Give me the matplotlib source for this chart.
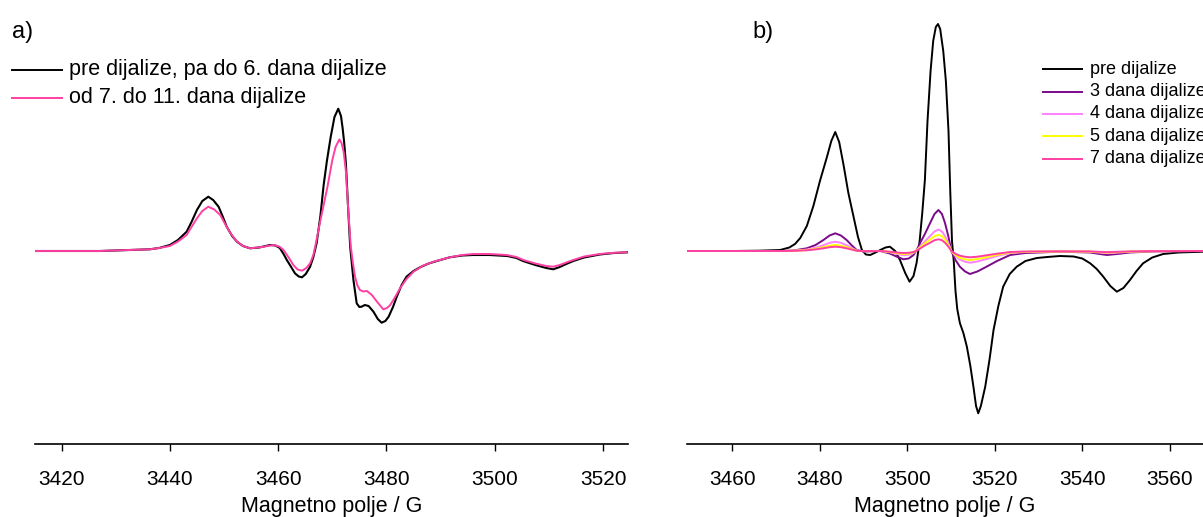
import matplotlib
matplotlib.use("Agg")
import matplotlib.pyplot as plt
from matplotlib.lines import Line2D

plt.rcParams['font.family'] = ['Liberation Sans', 'DejaVu Sans']

# ---------------- data: panel a ----------------
a_field_black = [3415.1, 3427.1, 3432.6, 3436.3, 3438.0, 3440.0, 3441.5, 3443.1, 3444.0, 3445.0,
                 3446.0, 3447.1, 3448.0, 3449.0, 3449.8, 3450.5, 3451.5, 3452.4, 3453.5, 3454.8,
                 3456.5, 3458.5, 3459.5, 3460.3, 3461.0, 3461.6, 3462.4, 3463.1, 3463.8, 3464.4,
                 3465.1, 3465.9, 3466.5, 3467.1, 3467.8, 3468.4, 3469.0, 3469.7, 3470.4, 3471.1,
                 3471.6, 3471.9, 3472.2, 3472.5, 3472.9, 3473.3, 3473.9, 3474.5, 3475.0, 3475.4,
                 3476.0, 3476.7, 3477.6, 3478.4, 3479.1, 3479.8, 3480.4, 3481.2, 3481.9, 3482.8,
                 3483.7, 3485.0, 3486.2, 3487.8, 3489.3, 3491.7, 3494.0, 3496.0, 3499.0, 3502.3,
                 3504.0, 3505.2, 3507.5, 3509.5, 3510.8, 3512.0, 3513.2, 3514.5, 3516.5, 3519.4,
                 3522.0, 3524.6]
a_int_black = [0, 0, 1, 1.7, 3, 6, 11, 19.3, 29, 41,
               50, 54.3, 51, 44.3, 34, 24.3, 15, 9.3, 5, 2.7,
               3.5, 6, 5.5, 3, -3, -9, -16, -22.3, -25.5, -26.3,
               -23, -15.7, -6, 7.7, 35, 66, 90, 114, 134, 142.3,
               135, 123, 108, 88, 45, 4.3, -29, -52.3, -56, -55.7,
               -54, -55, -60.7, -68, -71.7, -70, -65.7, -56, -45.7, -34,
               -25.7, -20, -16.3, -12.5, -10, -6.3, -4.5, -4, -4, -5,
               -7, -10, -14, -17, -18.3, -16, -13, -10, -6.5, -3.5,
               -2, -1.3]

a_field_pink = [3415.1, 3427.1, 3436.3, 3438.0, 3440.0, 3441.5, 3443.1, 3444.0, 3445.0, 3446.0,
                3447.1, 3448.2, 3449.3, 3450.2, 3451.2, 3452.3, 3453.5, 3454.8, 3457.0, 3459.1,
                3460.2, 3461.0, 3462.0, 3462.8, 3463.6, 3464.4, 3465.2, 3465.9, 3466.5, 3466.9,
                3467.7, 3468.4, 3469.1, 3469.6, 3470.0, 3470.6, 3471.3, 3471.7, 3472.1, 3472.5,
                3472.9, 3473.4, 3473.8, 3474.2, 3474.6, 3475.1, 3475.7, 3476.4, 3477.3, 3478.3,
                3479.4, 3480.1, 3480.7, 3481.6, 3482.5, 3483.7, 3485.0, 3486.8, 3488.7, 3491.7,
                3494.0, 3496.0, 3499.0, 3502.2, 3504.0, 3505.3, 3507.5, 3509.5, 3510.8, 3512.0,
                3513.2, 3514.5, 3516.5, 3519.4, 3522.0, 3524.4]
a_int_pink = [0, 0, 1.7, 3, 5, 9.5, 16, 24, 32.7, 40,
              44.3, 41.5, 36, 27, 17.7, 10, 5, 2.7, 4, 6,
              4.5, 1, -7, -14, -18.5, -19.7, -17, -12.3, -4, 6,
              28, 46, 64, 79, 91, 104, 111.6, 108, 99, 80,
              45, 5, -12, -25.7, -34, -39, -40.5, -40, -44, -51,
              -58.3, -57, -54, -46, -37.3, -28, -20.7, -14.5, -10.7, -6.3,
              -4, -3, -3, -4, -6, -9, -12.5, -15, -15.7, -14,
              -11.5, -9, -5.5, -3, -1.8, -1.3]

a_labels = ["pre dijalize, pa do 6. dana dijalize", "od 7. do 11. dana dijalize"]
a_colors = ["#000000", "#ff3fa3"]
a_ticks = [3420, 3440, 3460, 3480, 3500, 3520]

# ---------------- data: panel b ----------------
b_field_black = [3449.6, 3460.0, 3466.0, 3470.9, 3473.0, 3474.3, 3475.5, 3477.0, 3478.5, 3480.0,
                 3481.6, 3482.6, 3483.5, 3484.4, 3485.4, 3486.5, 3487.7, 3488.7, 3489.6, 3490.5,
                 3491.5, 3492.7, 3493.8, 3495.0, 3496.0, 3497.2, 3498.3, 3499.5, 3500.5, 3501.4,
                 3502.1, 3502.8, 3503.4, 3504.0, 3504.6, 3505.3, 3505.9, 3506.5, 3507.0, 3507.5,
                 3508.2, 3508.8, 3509.4, 3509.8, 3510.2, 3510.6, 3511.0, 3511.4, 3512.0, 3512.8,
                 3513.6, 3514.4, 3515.1, 3515.7, 3516.2, 3516.8, 3517.8, 3518.8, 3519.7, 3520.8,
                 3521.9, 3523.4, 3525.0, 3527.0, 3529.6, 3532.0, 3534.9, 3538.0, 3540.0, 3541.8,
                 3543.3, 3544.8, 3546.4, 3547.9, 3549.4, 3550.9, 3552.4, 3553.9, 3556.0, 3558.5,
                 3562.0, 3567.6]
b_int_black = [0, 0, 0.3, 1, 3.5, 7, 13, 25, 45, 70,
               94, 110, 119, 109, 86, 58, 34, 14, 1, -3.5,
               -4, -1.5, 1, 3.5, 4.3, 0, -9, -22, -30.7, -25,
               -12, 10, 38, 71, 130, 180, 210, 224, 227, 222,
               200, 170, 120, 60, 10, -10, -40, -58, -72, -82,
               -95.7, -115, -135.7, -155, -162.3, -155, -135.7, -108, -79, -55,
               -35.7, -23, -15.7, -10, -7, -6, -5, -5.5, -7.5, -12.3,
               -18, -25.7, -35, -40.7, -37, -29, -20, -12.3, -6.5, -3,
               -1.5, -0.7]

b_field_col = [3449.6, 3470.9, 3474.0, 3477.0, 3479.0, 3480.8, 3482.2, 3483.5, 3484.8, 3486.1,
               3487.3, 3488.4, 3490.0, 3493.8, 3496.0, 3497.6, 3499.1, 3500.3, 3501.4, 3502.2,
               3502.9, 3504.0, 3505.2, 3506.2, 3507.1, 3507.9, 3508.6, 3509.4, 3510.1, 3511.0,
               3512.0, 3513.2, 3514.3, 3516.0, 3518.1, 3520.5, 3523.5, 3527.0, 3534.9, 3541.8,
               3543.7, 3545.6, 3548.0, 3550.9, 3556.0, 3567.6]
b_int_3 = [0, 0, 0.5, 2.7, 6, 11, 15.5, 17.7, 15.5, 11,
           5.5, 1, -0.5, 0, -2.5, -5.7, -8.3, -7.5, -4, 1.5,
           8, 17, 28, 37, 41, 37, 28, 14, -0.7, -9,
           -15.7, -20.5, -23, -20.5, -15.7, -10, -4, -2, -0.7, -1.5,
           -2.8, -4, -3, -1.5, -0.5, 0]
b_int_4 = [0, 0, 0.3, 1.5, 3.3, 5.8, 8.2, 9.3, 8.2, 5.8,
           3, 0.5, -0.3, 0, -1.3, -3, -4.2, -3.8, -2, 1,
           4.5, 9.5, 15, 19.5, 21.5, 19.5, 15, 7.5, -0.5, -5,
           -8.5, -10.8, -11.7, -10.5, -8, -5, -2, -1, -0.5, -0.8,
           -1.5, -2.2, -1.6, -0.8, -0.3, 0]
b_int_5 = [0, 0, 0.2, 1, 2.2, 3.8, 5.3, 6, 5.3, 3.8,
           2, 0.3, -0.2, 0, -1, -2.2, -3, -2.7, -1.4, 0.8,
           3.5, 7.5, 11.5, 14.8, 16, 14.8, 11.5, 5.8, -0.4, -4,
           -6.8, -8.4, -9, -8.1, -6.2, -3.8, -1.5, -0.8, -0.4, -0.6,
           -1.1, -1.6, -1.2, -0.6, -0.2, 0]
b_int_7 = [0, 0, 0.15, 0.7, 1.6, 2.7, 3.8, 4.3, 3.8, 2.7,
           1.4, 0.2, -0.1, 0, -0.7, -1.5, -2, -1.8, -1, 0.5,
           2.5, 5.5, 8.3, 10.8, 11.7, 10.8, 8.3, 4.2, -0.3, -2.8,
           -4.7, -5.8, -6.3, -5.7, -4.3, -2.7, -1, -0.5, -0.3, -0.4,
           -0.8, -1.1, -0.8, -0.4, -0.1, 0]

b_labels = ["pre dijalize", "3 dana dijalize", "4 dana dijalize", "5 dana dijalize", "7 dana dijalize"]
b_colors = ["#000000", "#7a0a8a", "#ff80ff", "#ffff00", "#ff3fa3"]
b_ticks = [3460, 3480, 3500, 3520, 3540, 3560]

# ---------------- figure ----------------
W, H = 1203, 517
fig = plt.figure(figsize=(W / 100, H / 100), dpi=100)

def fx(px):
    return px / W

def fy(py):
    return 1 - py / H

top_px, bot_px, base_px = 15, 444, 251
ylim = (base_px - bot_px, base_px - top_px)

axA = fig.add_axes([fx(35), fy(bot_px), fx(628 - 35), fy(top_px) - fy(bot_px)])
axB = fig.add_axes([fx(687), fy(bot_px), fx(1203 - 687), fy(top_px) - fy(bot_px)])

kw = dict(solid_joinstyle='round', solid_capstyle='round')
axA.plot(a_field_black, a_int_black, color=a_colors[0], lw=1.5, **kw)
axA.plot(a_field_pink, a_int_pink, color=a_colors[1], lw=1.4, **kw)

axB.plot(b_field_black, b_int_black, color=b_colors[0], lw=1.4, **kw)
for vals, c in zip([b_int_3, b_int_4, b_int_5, b_int_7], b_colors[1:]):
    axB.plot(b_field_col, vals, color=c, lw=1.4, **kw)

for ax, xl, ticks in [(axA, (3415.1, 3524.6), a_ticks), (axB, (3449.6, 3567.6), b_ticks)]:
    ax.set_xlim(*xl)
    ax.set_ylim(*ylim)
    ax.set_xticks(ticks)
    ax.set_yticks([])
    for s in ['top', 'right', 'left']:
        ax.spines[s].set_visible(False)
    ax.spines['bottom'].set_linewidth(1.2)
    ax.tick_params(axis='x', direction='out', length=5, width=1.0, pad=14, labelsize=15)
    ax.set_xlabel("Magnetno polje / G", fontsize=15.5, labelpad=5)
    ax.patch.set_alpha(0)

fig.text(fx(12), fy(32), "a)", fontsize=17, va='center', ha='left')
fig.text(fx(752), fy(32), "b)", fontsize=17, va='center', ha='left')

# legend a
for i, (lab, c) in enumerate(zip(a_labels, a_colors)):
    y = 70 + i * 27.5
    fig.add_artist(Line2D([fx(12), fx(62)], [fy(y), fy(y)], color=c, lw=1.4))
    fig.text(fx(69), fy(y), lab, fontsize=15.5, va='center', ha='left')

# legend b
for i, (lab, c) in enumerate(zip(b_labels, b_colors)):
    y = 69.3 + i * 22.3
    fig.add_artist(Line2D([fx(1043), fx(1082)], [fy(y), fy(y)], color=c, lw=1.4))
    fig.text(fx(1090), fy(y), lab, fontsize=13, va='center', ha='left')

fig.savefig("out.png", dpi=100)
